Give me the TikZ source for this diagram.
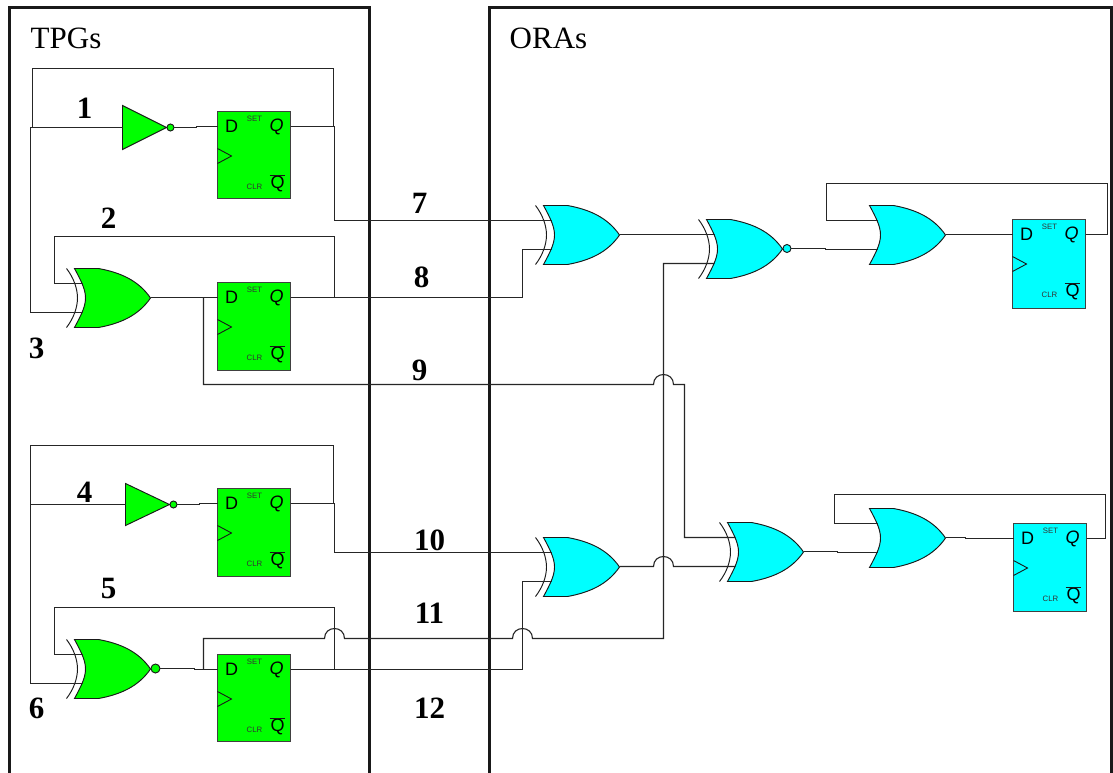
\documentclass[tikz,border=0pt]{standalone}
\usepackage{fontspec}
\setmainfont{Liberation Serif}
\newfontfamily\ffsans{Liberation Sans}
\definecolor{tpg}{RGB}{0,255,0}
\definecolor{ora}{RGB}{0,255,255}
\tikzset{
  wire/.style={line width=1.1pt,black!85,line join=miter},
  gateline/.style={line width=0.95pt,draw=black!90},
  panel/.style={line width=2.9pt,black!90},
  ffbody/.style={draw=black!75,line width=1.1pt,anchor=north west,inner sep=0pt,outer sep=0pt,minimum width=73pt},
  numlabel/.style={font=\fontsize{31}{31}\selectfont\bfseries,inner sep=0pt},
  paneltitle/.style={inner sep=0pt,anchor=base west},
  ffletter/.style={font=\ffsans\fontsize{18}{18}\selectfont,inner sep=0pt},
  ffsmall/.style={font=\ffsans\fontsize{7.8}{7.8}\selectfont,inner sep=0pt,text=black!80},
  hop/.style={to path={.. controls +(0,-13.3) and +(0,-13.3) .. (\tikztotarget)}}
}
% name, x, y, colour, height
\newcommand{\flipflop}[5]{%
  \node[ffbody,fill=#4,minimum height=#5pt] (#1) at (#2,#3) {};
  \begin{scope}[shift={(#2,#3)}]
    \node[ffletter] (#1-dl) at (14,15) {D};
    \node[ffletter,font=\ffsans\itshape\fontsize{18}{18}\selectfont] (#1-ql) at (59,15) {Q};
    \node[ffletter] (#1-nq) at (60,72.5) {Q};
    \node[ffsmall] (#1-set) at (37,7) {SET};
    \node[ffsmall] (#1-clr) at (37,75) {CLR};
    \draw[line width=0.9pt,black!90] (52,64) -- (67,64);
    \draw[line width=0.9pt,black!90] (0,37) -- (14,44.5) -- (0,52);
    \coordinate (#1-D) at (0,15);
    \coordinate (#1-Q) at (73,15);
  \end{scope}}
% OR family body: name, x, y, colour ; in1/in2 at rel x=8
\newcommand{\orbody}[4]{%
  \begin{scope}[shift={(#2,#3)}]
    \draw[gateline,fill=#4] (0,0) -- (24,0) .. controls (46,4) and (64,12) .. (76,29.5)
      .. controls (64,47) and (46,55) .. (24,59) -- (0,59)
      .. controls (7,46) and (11,38) .. (11,29.5) .. controls (11,21) and (7,13) .. (0,0) -- cycle;
    \coordinate (#1-a) at (8,15);
    \coordinate (#1-b) at (8,44);
    \coordinate (#1-out) at (76,29);
  \end{scope}}
\newcommand{\xorarc}[2]{%
  \draw[gateline,shift={(#1,#2)}] (-8,0) .. controls (-1,9) and (3,20) .. (3,29.5)
    .. controls (3,39) and (-1,50) .. (-8,59);}
% name, x, y, colour
\newcommand{\xorgate}[4]{\xorarc{#2}{#3}\orbody{#1}{#2}{#3}{#4}}
\newcommand{\bubble}[4]{% name, gate, colour, radius
  \node[circle,draw=black!90,line width=0.95pt,fill=#3,inner sep=0pt,minimum size=#4pt,anchor=west] (#1) at (#2-out) {};}
% name, x, top y, bottom y, tip x, colour, bubble size
\newcommand{\inverter}[7]{%
  \path (#2,#3) -- (#2,#4) coordinate[midway] (#1-in);
  \coordinate (#1-tip) at (#5,{(#3+#4)/2});
  \draw[gateline,fill=#6] (#2,#3) -- (#1-tip) -- (#2,#4) -- cycle;
  \node[circle,draw=black!90,line width=0.95pt,fill=#6,inner sep=0pt,minimum size=#7pt,anchor=west] (#1-b) at (#1-tip) {};}
\begin{document}
\begin{tikzpicture}[x=1pt,y=-1pt]
\useasboundingbox (-0.5,-0.5) rectangle (1112.5,772.5);
\fill[white] (-0.5,-0.5) rectangle (1112.5,772.5);
% panels
\coordinate (pl1) at (9,773); \coordinate (pl2) at (9,7); \coordinate (pl3) at (369,7); \coordinate (pl4) at (369,773);
\coordinate (pr1) at (489,773); \coordinate (pr2) at (489,7); \coordinate (pr3) at (1111,7); \coordinate (pr4) at (1111,773);
\draw[panel] (pl1) -- (pl2) -- (pl3) -- (pl4);
\draw[panel] (pr1) -- (pr2) -- (pr3) -- (pr4);
\node[paneltitle,font=\fontsize{31}{31}\selectfont] (tTPG) at (30,48) {TPGs};
\node[paneltitle,font=\fontsize{31}{31}\selectfont] (tORA) at (509,48) {ORAs};
% flip-flops
\flipflop{ffa}{217}{111}{tpg}{87}
\flipflop{ffb}{217}{282}{tpg}{88}
\flipflop{ffc}{217}{488}{tpg}{88}
\flipflop{ffd}{217}{654}{tpg}{87}
\flipflop{ffe}{1012}{219}{ora}{89}
\flipflop{fff}{1013}{523}{ora}{88}
% gates
\inverter{inva}{122}{105}{149}{166}{tpg}{7}
\inverter{invb}{125}{483}{525}{169}{tpg}{7}
\xorgate{gb}{74}{268}{tpg}
\xorgate{gd}{74}{639}{tpg}
\bubble{gdb}{gd}{tpg}{9}
\xorgate{oa}{543}{205}{ora}
\xorgate{ob}{706}{219}{ora}
\bubble{obb}{ob}{ora}{8}
\xorgate{oc}{543}{537}{ora}
\xorgate{od}{727}{522}{ora}
\orbody{oe}{869}{205}{ora}
\orbody{of}{869}{508}{ora}
% waypoints
\coordinate (ra) at (333,0);
\coordinate (rb) at (334,0);
\coordinate (ljoin) at (30,0);
\coordinate (xa) at (522,0);
\coordinate (xv) at (663,0);
\coordinate (xn) at (684,0);
\coordinate (xf) at (203,0);
% TPG wires
\draw[wire] (inva-b.east) -- ++(22,0) |- (ffa-D);
\draw[wire] (32,127) -- (inva-in);
\draw[wire] (ffa-Q) -- (ra |- ffa-Q) -- (333,68) -- (32,68) -- (32,127);
\draw[wire] (inva-in) -- (ljoin |- inva-in) -- (ljoin |- gb-b) -- (gb-b);
\draw[wire] (ffa-Q) -| (rb |- oa-a) -- (oa-a);
\draw[wire] (gb-out) -- (ffb-D);
\draw[wire] (ffb-Q) -- (rb |- ffb-Q) -- (334,236) -- (54,236) -- (54,283) -- (gb-a);
\draw[wire] (ffb-Q) -| (xa |- oa-b) -- (oa-b);
\draw[wire] (xf |- ffb-D) -- (xf |- 0,384) -- (653,384) to[hop] (673,384) -- (684,384) -- (xn |- od-a) -- (od-a);
\draw[wire] (invb-b.east) -- ++(22,0) |- (ffc-D);
\draw[wire] (invb-in) -- (ljoin |- invb-in);
\draw[wire] (ffc-Q) -- (ra |- ffc-Q) -- (333,445) -- (30,445) -- (ljoin |- gd-b) -- (gd-b);
\draw[wire] (ffc-Q) -| (rb |- oc-a) -- (oc-a);
\draw[wire] (gdb.east) -- ++(34,0) |- (ffd-D);
\draw[wire] (ffd-Q) -- (rb |- ffd-Q) -- (334,607) -- (54,607) -- (54,654) -- (gd-a);
\draw[wire] (ffd-Q) -| (xa |- oc-b) -- (oc-b);
\draw[wire] (xf |- ffd-D) -- (203,638) -- (324,638) to[hop] (344,638) -- (512,638) to[hop] (532,638) -- (xv |- 0,638) -- (xv |- ob-b) -- (ob-b);
% ORA wires
\draw[wire] (oa-out) -- (ob-a);
\draw[wire] (oc-out) -- (653,566) to[hop] (673,566) -- (od-b);
\draw[wire] (obb.east) -- ++(34,0) |- (oe-b);
\draw[wire] (od-out) -- ++(34,0) |- (of-b);
\draw[wire] (oe-out) -- (ffe-D);
\draw[wire] (of-out) -- ++(20,0) |- (fff-D);
\draw[wire] (ffe-Q) -- (1107,234) -- (1107,183) -- (826,183) -- (826,220) -- (oe-a);
\draw[wire] (fff-Q) -- (1105,538) -- (1105,494) -- (834,494) -- (834,523) -- (of-a);
% number labels
\node[numlabel] (l1) at (84,108) {1};
\node[numlabel] (l2) at (108,218) {2};
\node[numlabel] (l3) at (36,348) {3};
\node[numlabel] (l4) at (84,492) {4};
\node[numlabel] (l5) at (108,588) {5};
\node[numlabel] (l6) at (36,708) {6};
\node[numlabel] (l7) at (419,203) {7};
\node[numlabel] (l8) at (421,277) {8};
\node[numlabel] (l9) at (419,370) {9};
\node[numlabel] (l10) at (429,540) {10};
\node[numlabel] (l11) at (429,613) {11};
\node[numlabel] (l12) at (429,708) {12};
\end{tikzpicture}
\end{document}
